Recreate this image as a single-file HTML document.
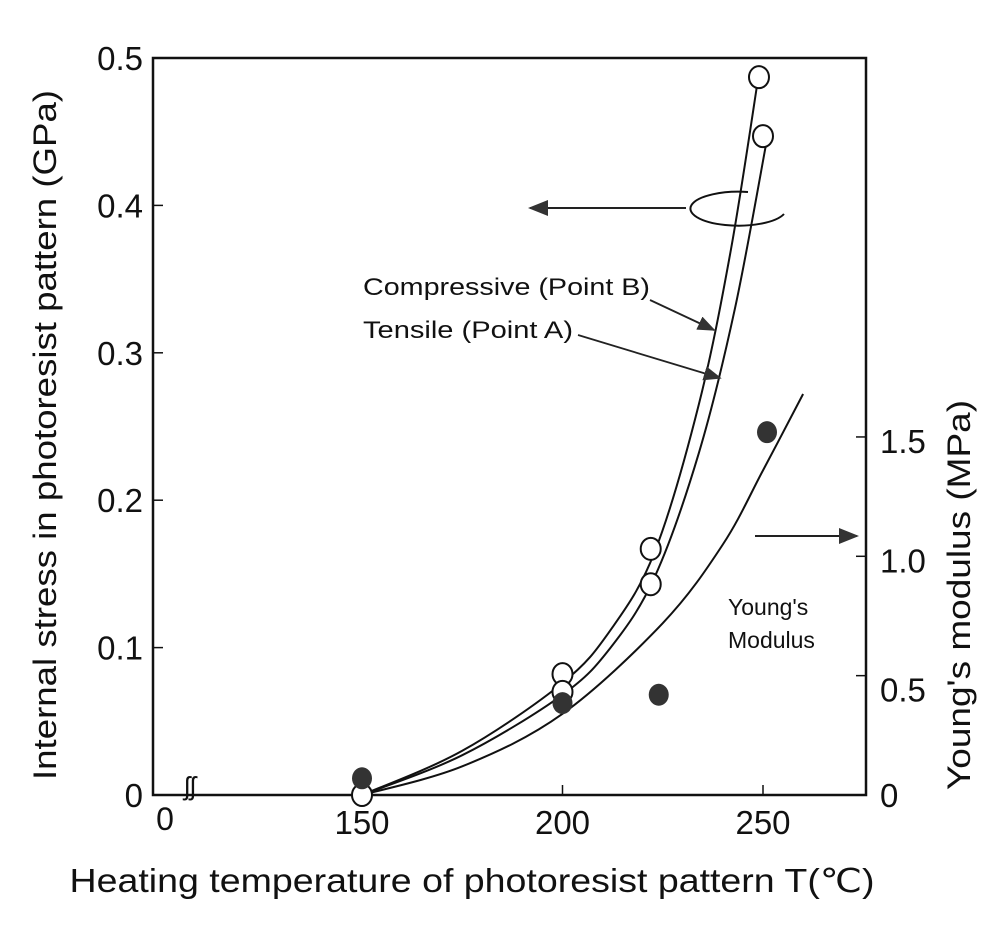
<!DOCTYPE html>
<html><head><meta charset="utf-8"><style>
body{margin:0;background:#fff}
svg text{font-family:"Liberation Sans",sans-serif;fill:#111}
</style></head><body>
<svg id="chart" width="999" height="936" viewBox="0 0 999 936">
<defs><marker id="ah" markerWidth="10" markerHeight="8" refX="9" refY="4" orient="auto"><path d="M0,0 L10,4 L0,8 z" fill="#333"/></marker></defs>
<rect x="153" y="58" width="713" height="737" fill="none" stroke="#111" stroke-width="2.5"/>
<g id="axes"></g>
<g id="marks"></g>
<text x="0" y="0" transform="translate(56,435) rotate(-90)" text-anchor="middle" font-size="32" textLength="690" lengthAdjust="spacingAndGlyphs">Internal stress in photoresist pattern (GPa)</text>
<text x="0" y="0" transform="translate(970,595) rotate(-90)" text-anchor="middle" font-size="32" textLength="390" lengthAdjust="spacingAndGlyphs">Young's modulus (MPa)</text>
<text x="472" y="892" text-anchor="middle" font-size="33" textLength="805" lengthAdjust="spacingAndGlyphs">Heating temperature of photoresist pattern T(℃)</text>
<text x="165" y="830" text-anchor="middle" font-size="32">0</text>
<text x="190" y="795" text-anchor="middle" font-size="26">ʃʃ</text>
<text x="363" y="295" font-size="24" textLength="287" lengthAdjust="spacingAndGlyphs">Compressive (Point B)</text>
<text x="363" y="338" font-size="24" textLength="210" lengthAdjust="spacingAndGlyphs">Tensile (Point A)</text>
<text x="728" y="615" font-size="23">Young's</text>
<text x="728" y="648" font-size="23">Modulus</text>
<line x1="650" y1="300" x2="714" y2="330" stroke="#222" stroke-width="1.8" marker-end="url(#ah)"/>
<line x1="578" y1="335" x2="720" y2="378" stroke="#222" stroke-width="1.8" marker-end="url(#ah)"/>
<path d="M748,192 A48,17 0 1 0 784,214" fill="none" stroke="#111" stroke-width="2"/>
<line x1="686" y1="208" x2="530" y2="208" stroke="#222" stroke-width="2" marker-end="url(#ah)"/>
<line x1="755" y1="536" x2="857" y2="536" stroke="#222" stroke-width="2" marker-end="url(#ah)"/>
</svg>
<script>
const xTicks=[150,200,250];
const yTicks=[0,0.1,0.2,0.3,0.4,0.5];
const yTickLabels=["0","0.1","0.2","0.3","0.4","0.5"];
const y2Ticks=[0,0.5,1.0,1.5];
const y2TickLabels=["0","0.5","1.0","1.5"];
const compT=[150,175,200,212,223,234,242,249];
const compV=[0,0.03,0.076,0.112,0.165,0.265,0.37,0.49];
const tensT=[150,175,200,212,223,234,243,251];
const tensV=[0,0.027,0.068,0.1,0.148,0.232,0.33,0.445];
const youngT=[150,175,200,225,240,250,260];
const youngV=[0,0.12,0.34,0.72,1.05,1.36,1.68];
const openT=[150,200,200,222,222,249,250];
const openV=[0,0.082,0.07,0.167,0.143,0.487,0.447];
const fillT=[150,200,224,251];
const fillV=[0.07,0.385,0.42,1.52];
const X=t=>362+(t-150)*4.01;
const Y=v=>795-v*1474;
const Y2=v=>795-v*238.7;
const NS="http://www.w3.org/2000/svg";
const ax=document.getElementById('axes'),mk=document.getElementById('marks');
function el(p,tag,a){const e=document.createElementNS(NS,tag);for(const k in a)e.setAttribute(k,a[k]);p.appendChild(e);return e;}
xTicks.forEach(t=>{const l=el(ax,'line',{x1:X(t),x2:X(t),y1:795,y2:785,stroke:'#111','stroke-width':1.5});


const tx=el(ax,'text',{x:X(t),y:834,'text-anchor':'middle','font-size':33});tx.textContent=t;

});
yTicks.forEach((v,i)=>{const l=el(ax,'line',{x1:153,x2:163,y1:Y(v),y2:Y(v),stroke:'#111','stroke-width':1.5});


const tx=el(ax,'text',{x:143,y:Y(v)+12,'text-anchor':'end','font-size':33});tx.textContent=yTickLabels[i];

});
y2Ticks.forEach((v,i)=>{const l=el(ax,'line',{x1:856,x2:866,y1:Y2(v),y2:Y2(v),stroke:'#111','stroke-width':1.5});


const tx=el(ax,'text',{x:880,y:(i==0?Y2(v):i==1?Y2(v)+14:Y2(v)+4)+12,'font-size':33});tx.textContent=y2TickLabels[i];

});
function smooth(pts){let d=`M${pts[0][0]},${pts[0][1]}`;for(let i=0;i<pts.length-1;i++){const p0=pts[Math.max(0,i-1)],p1=pts[i],p2=pts[i+1],p3=pts[Math.min(pts.length-1,i+2)];
d+=` C${p1[0]+(p2[0]-p0[0])/6},${p1[1]+(p2[1]-p0[1])/6} ${p2[0]-(p3[0]-p1[0])/6},${p2[1]-(p3[1]-p1[1])/6} ${p2[0]},${p2[1]}`;}return d;}
[[compT,compV,Y,'compressive-curve'],[tensT,tensV,Y,'tensile-curve'],[youngT,youngV,Y2,'youngs-curve']].forEach(([T,V,f,n])=>{
const p=el(mk,'path',{d:smooth(T.map((t,i)=>[X(t),f(V[i])])),fill:'none',stroke:'#111','stroke-width':2});

});
openT.forEach((t,i)=>{const c=el(mk,'ellipse',{cx:X(t),cy:Y(openV[i]),rx:10,ry:11,fill:'#fff',stroke:'#111','stroke-width':2});

});
fillT.forEach((t,i)=>{const c=el(mk,'ellipse',{cx:X(t),cy:Y2(fillV[i]),rx:10,ry:11,fill:'#333'});

});
</script>
</body></html>
